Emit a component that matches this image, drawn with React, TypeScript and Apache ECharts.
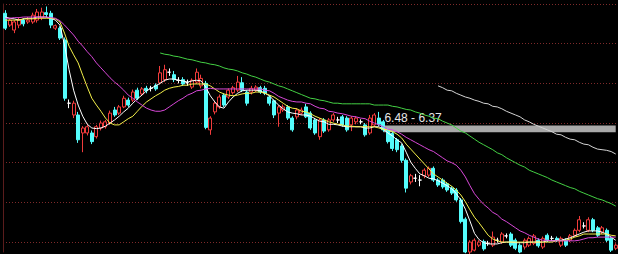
import React, { useEffect, useRef } from "react";
import * as echarts from "echarts";

// Daily candles: [open, close, low, high]
const ohlc: [number, number, number, number][] = [
  [8.29, 8.05, 8.02, 8.34], [8.10, 8.18, 8.07, 8.21], [8.02, 8.15, 7.97, 8.18], [8.10, 8.19, 8.05, 8.22],
  [8.18, 8.12, 8.08, 8.21], [8.15, 8.18, 8.12, 8.23], [8.15, 8.26, 8.12, 8.30], [8.18, 8.31, 8.14, 8.36],
  [8.22, 8.31, 8.18, 8.38], [8.30, 8.27, 8.22, 8.40], [8.29, 8.10, 8.05, 8.33], [8.05, 8.09, 8.02, 8.11],
  [8.05, 7.89, 7.86, 8.08], [7.86, 6.92, 6.88, 7.90], [6.84, 6.84, 6.76, 6.90], [6.65, 6.84, 6.60, 6.88],
  [6.65, 6.25, 6.20, 6.70], [6.36, 6.44, 6.05, 6.47], [6.36, 6.46, 6.32, 6.50], [6.36, 6.22, 6.18, 6.40],
  [6.30, 6.46, 6.27, 6.49], [6.44, 6.52, 6.40, 6.56], [6.46, 6.54, 6.43, 6.57], [6.52, 6.68, 6.49, 6.72],
  [6.73, 6.65, 6.62, 6.78], [6.68, 6.78, 6.65, 6.81], [6.78, 6.92, 6.76, 6.96], [6.89, 6.81, 6.78, 6.93],
  [6.89, 7.02, 6.86, 7.06], [7.05, 6.92, 6.89, 7.09], [6.99, 7.07, 6.96, 7.10], [7.08, 7.04, 7.00, 7.12],
  [7.08, 7.08, 7.03, 7.12], [7.13, 7.07, 7.04, 7.16], [7.17, 7.33, 7.14, 7.44], [7.22, 7.38, 7.18, 7.46],
  [7.34, 7.34, 7.28, 7.40], [7.30, 7.22, 7.18, 7.36], [7.21, 7.21, 7.16, 7.26], [7.22, 7.15, 7.12, 7.26],
  [7.17, 7.17, 7.12, 7.22], [7.10, 7.21, 7.07, 7.24], [7.18, 7.34, 7.15, 7.40], [7.12, 7.24, 7.08, 7.30],
  [7.16, 6.45, 6.42, 7.20], [6.41, 6.60, 6.33, 6.63], [6.70, 6.84, 6.66, 6.88], [6.78, 6.94, 6.75, 6.98],
  [6.97, 6.81, 6.78, 7.00], [6.94, 7.05, 6.91, 7.08], [7.01, 7.09, 6.98, 7.12], [7.05, 7.18, 7.02, 7.28],
  [7.17, 7.05, 7.02, 7.26], [7.02, 6.84, 6.80, 7.05], [7.02, 7.08, 6.98, 7.12], [7.05, 7.10, 7.02, 7.13],
  [7.09, 7.02, 6.99, 7.12], [7.08, 7.00, 6.97, 7.12], [6.94, 6.84, 6.80, 6.97], [6.88, 6.65, 6.60, 6.90],
  [6.68, 6.78, 6.46, 6.81], [6.73, 6.78, 6.70, 6.82], [6.78, 6.60, 6.57, 6.81], [6.60, 6.41, 6.38, 6.63],
  [6.62, 6.73, 6.58, 6.76], [6.68, 6.73, 6.65, 6.77], [6.78, 6.62, 6.60, 6.83], [6.68, 6.44, 6.41, 6.71],
  [6.57, 6.36, 6.33, 6.60], [6.30, 6.57, 6.25, 6.60], [6.57, 6.39, 6.36, 6.60], [6.41, 6.57, 6.38, 6.60],
  [6.57, 6.65, 6.54, 6.68], [6.57, 6.57, 6.52, 6.62], [6.62, 6.49, 6.46, 6.65], [6.60, 6.41, 6.38, 6.63],
  [6.49, 6.60, 6.39, 6.63], [6.54, 6.60, 6.50, 6.63], [6.54, 6.54, 6.50, 6.58], [6.49, 6.33, 6.30, 6.52],
  [6.36, 6.60, 6.33, 6.65], [6.49, 6.65, 6.46, 6.68], [6.60, 6.50, 6.47, 6.70], [6.54, 6.41, 6.38, 6.57],
  [6.41, 6.22, 6.19, 6.44], [6.35, 6.11, 6.07, 6.38], [6.25, 6.09, 6.05, 6.28], [6.15, 5.92, 5.88, 6.18],
  [5.92, 5.47, 5.40, 5.95], [5.57, 5.67, 5.53, 5.70], [5.63, 5.63, 5.57, 5.70], [5.60, 5.60, 5.50, 5.68],
  [5.67, 5.76, 5.63, 5.79], [5.68, 5.79, 5.65, 5.82], [5.79, 5.60, 5.57, 5.82], [5.60, 5.52, 5.49, 5.63],
  [5.60, 5.49, 5.46, 5.63], [5.54, 5.44, 5.41, 5.57], [5.47, 5.39, 5.36, 5.50], [5.44, 5.28, 5.25, 5.47],
  [5.28, 4.93, 4.90, 5.31], [4.97, 4.44, 4.42, 5.00], [4.44, 4.60, 4.40, 4.63], [4.47, 4.63, 4.45, 4.66],
  [4.55, 4.60, 4.52, 4.63], [4.61, 4.49, 4.46, 4.64], [4.58, 4.58, 4.54, 4.62], [4.55, 4.68, 4.52, 4.77],
  [4.63, 4.63, 4.59, 4.67], [4.60, 4.73, 4.57, 4.76], [4.70, 4.70, 4.66, 4.74], [4.73, 4.55, 4.52, 4.76],
  [4.63, 4.50, 4.47, 4.66], [4.55, 4.44, 4.42, 4.58], [4.52, 4.63, 4.48, 4.66], [4.55, 4.66, 4.52, 4.69],
  [4.58, 4.70, 4.55, 4.73], [4.63, 4.54, 4.51, 4.66], [4.52, 4.66, 4.49, 4.69], [4.71, 4.63, 4.60, 4.74],
  [4.66, 4.66, 4.62, 4.70], [4.66, 4.63, 4.60, 4.69], [4.55, 4.66, 4.52, 4.69], [4.63, 4.55, 4.52, 4.66],
  [4.63, 4.70, 4.60, 4.73], [4.71, 4.79, 4.68, 4.82], [4.79, 4.96, 4.76, 5.02], [4.86, 4.86, 4.82, 4.92],
  [4.79, 4.96, 4.76, 5.00], [4.96, 4.79, 4.76, 4.99], [4.83, 4.71, 4.68, 4.86], [4.76, 4.83, 4.73, 4.86],
  [4.79, 4.63, 4.60, 4.82], [4.66, 4.47, 4.44, 4.69], [4.50, 4.55, 4.47, 4.58],
];

// Session labels (axis is hidden)
const sessions = ohlc.map((_, i) => `D${i + 1}`);

// Moving averages
const ma5 = [
  8.23, 8.21, 8.20, 8.18, 8.20, 8.21, 8.21, 8.23, 8.23, 8.23,
  8.21, 8.18, 8.10, 7.78, 7.38, 7.05, 6.81, 6.63, 6.50, 6.44,
  6.43, 6.44, 6.47, 6.52, 6.57, 6.63, 6.70, 6.76, 6.84, 6.91,
  6.97, 7.04, 7.08, 7.12, 7.16, 7.21, 7.23, 7.23, 7.21, 7.20,
  7.18, 7.20, 7.21, 7.20, 7.10, 6.96, 6.86, 6.78, 6.76, 6.86,
  6.94, 7.00, 7.04, 7.05, 7.05, 7.05, 7.04, 7.00, 6.96, 6.88,
  6.81, 6.75, 6.70, 6.68, 6.67, 6.65, 6.65, 6.63, 6.59, 6.55,
  6.54, 6.50, 6.50, 6.49, 6.47, 6.46, 6.46, 6.46, 6.46, 6.44,
  6.44, 6.46, 6.46, 6.42, 6.36, 6.31, 6.25, 6.20, 6.05, 5.89,
  5.79, 5.70, 5.67, 5.63, 5.62, 5.59, 5.55, 5.51, 5.46, 5.38,
  5.28, 5.13, 4.94, 4.74, 4.64, 4.59, 4.57, 4.57, 4.57, 4.59,
  4.60, 4.60, 4.59, 4.59, 4.59, 4.60, 4.60, 4.60, 4.60, 4.62,
  4.62, 4.63, 4.63, 4.65, 4.67, 4.70, 4.73, 4.76, 4.78, 4.78,
  4.78, 4.76, 4.73, 4.68, 4.63,
];

const ma10 = [
  8.18, 8.18, 8.18, 8.18, 8.20, 8.20, 8.20, 8.21, 8.21, 8.21,
  8.21, 8.20, 8.15, 7.97, 7.76, 7.62, 7.49, 7.29, 7.10, 6.92,
  6.81, 6.71, 6.60, 6.52, 6.49, 6.49, 6.54, 6.59, 6.63, 6.71,
  6.79, 6.86, 6.91, 6.96, 7.00, 7.05, 7.08, 7.10, 7.11, 7.13,
  7.13, 7.15, 7.15, 7.15, 7.15, 7.12, 7.07, 7.02, 6.99, 6.97,
  6.96, 6.97, 6.99, 7.00, 7.00, 7.02, 7.02, 7.00, 6.97, 6.94,
  6.89, 6.84, 6.79, 6.76, 6.75, 6.71, 6.70, 6.67, 6.63, 6.60,
  6.57, 6.54, 6.52, 6.50, 6.49, 6.47, 6.47, 6.46, 6.46, 6.46,
  6.46, 6.46, 6.44, 6.42, 6.41, 6.38, 6.34, 6.28, 6.18, 6.10,
  6.02, 5.94, 5.86, 5.78, 5.70, 5.65, 5.60, 5.55, 5.50, 5.44,
  5.36, 5.25, 5.12, 5.00, 4.91, 4.81, 4.71, 4.65, 4.62, 4.60,
  4.60, 4.60, 4.60, 4.60, 4.60, 4.60, 4.60, 4.60, 4.60, 4.60,
  4.60, 4.62, 4.62, 4.63, 4.65, 4.68, 4.70, 4.73, 4.73, 4.73,
  4.73, 4.73, 4.73, 4.71, 4.70,
];

const ma20 = [
  8.21, 8.21, 8.22, 8.22, 8.23, 8.23, 8.23, 8.23, 8.23, 8.23,
  8.22, 8.21, 8.17, 8.10, 8.02, 7.94, 7.84, 7.76, 7.67, 7.59,
  7.49, 7.41, 7.33, 7.25, 7.18, 7.12, 7.05, 6.97, 6.92, 6.86,
  6.81, 6.76, 6.73, 6.71, 6.71, 6.73, 6.78, 6.83, 6.88, 6.92,
  6.97, 7.00, 7.04, 7.05, 7.07, 7.08, 7.07, 7.07, 7.07, 7.07,
  7.07, 7.07, 7.07, 7.07, 7.07, 7.07, 7.07, 7.05, 7.04, 7.00,
  6.95, 6.92, 6.89, 6.87, 6.86, 6.86, 6.84, 6.83, 6.79, 6.76,
  6.75, 6.71, 6.70, 6.68, 6.67, 6.65, 6.63, 6.62, 6.60, 6.59,
  6.55, 6.52, 6.49, 6.46, 6.42, 6.41, 6.38, 6.34, 6.29, 6.25,
  6.21, 6.17, 6.13, 6.09, 6.06, 6.01, 5.96, 5.91, 5.88, 5.84,
  5.76, 5.65, 5.51, 5.38, 5.29, 5.21, 5.15, 5.08, 5.04, 4.97,
  4.93, 4.88, 4.83, 4.78, 4.75, 4.71, 4.68, 4.65, 4.63, 4.63,
  4.62, 4.62, 4.62, 4.62, 4.62, 4.62, 4.63, 4.65, 4.67, 4.67,
  4.68, 4.68, 4.68, 4.68, 4.68,
];

// Longer averages begin once enough sessions have accumulated
const ma60Start = 34;
const ma60 = [
  7.65, 7.63, 7.62, 7.60, 7.59, 7.57, 7.55, 7.54, 7.52, 7.50,
  7.49, 7.47, 7.46, 7.44, 7.41, 7.39, 7.38, 7.36, 7.33, 7.31,
  7.28, 7.26, 7.23, 7.20, 7.18, 7.15, 7.12, 7.10, 7.07, 7.04,
  7.01, 6.98, 6.95, 6.92, 6.91, 6.89, 6.88, 6.86, 6.84, 6.84,
  6.83, 6.83, 6.83, 6.83, 6.83, 6.83, 6.83, 6.81, 6.81, 6.81,
  6.81, 6.79, 6.78, 6.76, 6.74, 6.73, 6.70, 6.68, 6.65, 6.63,
  6.60, 6.59, 6.55, 6.52, 6.49, 6.44, 6.39, 6.36, 6.31, 6.26,
  6.21, 6.17, 6.13, 6.09, 6.04, 6.01, 5.96, 5.92, 5.88, 5.84,
  5.81, 5.76, 5.73, 5.70, 5.67, 5.64, 5.60, 5.57, 5.54, 5.51,
  5.48, 5.46, 5.42, 5.39, 5.36, 5.33, 5.30, 5.28, 5.25, 5.22,
  5.18,
];

const ma120Start = 95;
const ma120 = [
  7.12, 7.09, 7.05, 7.04, 7.00, 6.97, 6.94, 6.92, 6.89, 6.87,
  6.84, 6.83, 6.79, 6.78, 6.75, 6.71, 6.68, 6.65, 6.62, 6.57,
  6.54, 6.50, 6.47, 6.44, 6.41, 6.38, 6.34, 6.33, 6.29, 6.26,
  6.25, 6.21, 6.18, 6.17, 6.13, 6.10, 6.09, 6.08, 6.06, 6.02,
];

// Highlighted price zone
const zoneHigh = 6.48;
const zoneLow = 6.37;
const zoneFromIndex = 83;

const priceMin = 4.44;
const priceMax = 8.44;

const padFront = (start: number, values: number[]) => [
  ...new Array(start).fill("-"),
  ...values,
];

const UP = "#f23c3c";
const DOWN = "#54fcfc";

export default function App() {
  const ref = useRef<HTMLDivElement>(null);

  useEffect(() => {
    if (!ref.current) return;
    const chart = echarts.init(ref.current, null, { renderer: "svg" });

    const candleData = ohlc.map((v) =>
      v[0] === v[1]
        ? {
            value: v,
            itemStyle: {
              color: "#ffffff",
              color0: "#ffffff",
              borderColor: "#ffffff",
              borderColor0: "#ffffff",
            },
          }
        : v
    );

    const maLine = (name: string, data: any[], color: string) => ({
      name,
      type: "line",
      data,
      xAxisIndex: 0,
      yAxisIndex: 0,
      symbol: "none",
      silent: true,
      connectNulls: false,
      lineStyle: { color, width: 1 },
      z: 3,
    });

    chart.setOption({
      animation: false,
      backgroundColor: "#000000",
      grid: { left: 3, right: -2, top: 4, height: 248 },
      xAxis: {
        type: "category",
        data: sessions,
        boundaryGap: true,
        show: false,
      },
      yAxis: [
        {
          type: "value",
          min: priceMin,
          max: priceMax,
          show: false,
        },
        {
          // seven dotted rows from the top edge
          type: "value",
          inverse: true,
          min: 0,
          max: 6.25,
          interval: 1,
          position: "left",
          axisLabel: { show: false },
          axisTick: { show: false },
          axisLine: { show: true, lineStyle: { color: "#5a1c1c", width: 1 } },
          splitLine: {
            show: true,
            showMaxLine: false,
            lineStyle: { color: "#7e2a2a", width: 1, type: [1, 2] },
          },
        },
      ],
      series: [
        {
          name: "K",
          type: "candlestick",
          xAxisIndex: 0,
          yAxisIndex: 0,
          barWidth: 3.5,
          silent: true,
          data: candleData,
          itemStyle: {
            color: "#000000",
            color0: DOWN,
            borderColor: UP,
            borderColor0: DOWN,
            borderWidth: 1,
          },
          z: 2,
        },
        maLine("MA5", ma5, "#ffffff"),
        maLine("MA10", ma10, "#f4f04a"),
        maLine("MA20", ma20, "#d848d8"),
        maLine("MA60", padFront(ma60Start, ma60), "#44d044"),
        {
          ...maLine("MA120", padFront(ma120Start, ma120), "#d4d4d4"),
          z: 4,
          markArea: {
            silent: true,
            itemStyle: { color: "#a9a9a9" },
            label: {
              show: true,
              position: [1, -14],
              color: "#e8e8e8",
              fontSize: 12,
              fontFamily: "Liberation Sans, Arial, sans-serif",
              formatter: `${zoneHigh.toFixed(2)} - ${zoneLow.toFixed(2)}`,
            },
            data: [
              [
                { xAxis: zoneFromIndex, yAxis: zoneHigh },
                { xAxis: sessions[sessions.length - 1], yAxis: zoneLow },
              ],
            ],
          },
        },
      ],
    });

    return () => chart.dispose();
  }, []);

  return (
    <div
      ref={ref}
      style={{
        position: "fixed",
        left: 0,
        top: 0,
        width: 618,
        height: 254,
        background: "#000",
      }}
    />
  );
}
